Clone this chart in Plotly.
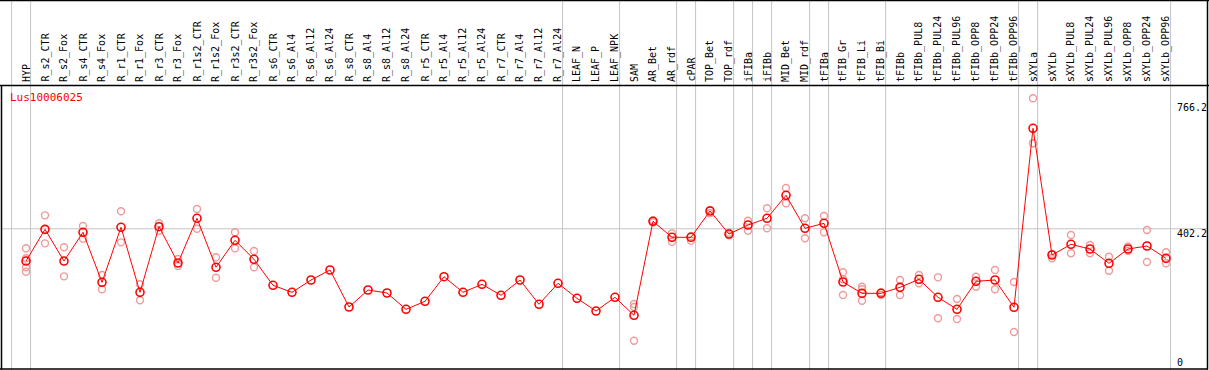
import plotly.graph_objects as go

categories = ["HYP", "R_s2_CTR", "R_s2_Fox", "R_s4_CTR", "R_s4_Fox", "R_r1_CTR", "R_r1_Fox",
              "R_r3_CTR", "R_r3_Fox", "R_r1s2_CTR", "R_r1s2_Fox", "R_r3s2_CTR", "R_r3s2_Fox",
              "R_s6_CTR", "R_s6_Al4", "R_s6_Al12", "R_s6_Al24", "R_s8_CTR", "R_s8_Al4", "R_s8_Al12",
              "R_s8_Al24", "R_r5_CTR", "R_r5_Al4", "R_r5_Al12", "R_r5_Al24", "R_r7_CTR", "R_r7_Al4",
              "R_r7_Al12", "R_r7_Al24", "LEAF_N", "LEAF_P", "LEAF_NPK", "SAM", "AR_Bet", "AR_rdf",
              "cPAR", "TOP_Bet", "TOP_rdf", "iFIBa", "iFIBb", "MID_Bet", "MID_rdf", "tFIBa",
              "tFIB_Gr", "tFIB_Li", "tFIB_Bi", "tFIBb", "tFIBb_PUL8", "tFIBb_PUL24", "tFIBb_PUL96",
              "tFIBb_OPP8", "tFIBb_OPP24", "tFIBb_OPP96", "sXYLa", "sXYLb", "sXYLb_PUL8",
              "sXYLb_PUL24", "sXYLb_PUL96", "sXYLb_OPP8", "sXYLb_OPP24", "sXYLb_OPP96"]

means = [309, 400.5, 309, 392, 247.5, 406.4, 218.6, 408.2, 303.3, 432.4, 290.9, 368.8, 314,
         238.9, 218.6, 254.2, 283.1, 176.2, 225.3, 216.6, 169.5, 192.6, 263.7, 218.6, 241.8,
         210, 254.2, 184, 244.7, 201.3, 164.6, 204.2, 152.2, 423.7, 377.5, 377.5, 453.5, 387,
         413, 432.4, 498.8, 403.5, 417.9, 248.4, 215.7, 215.7, 233, 256.2, 204.2, 169.5, 250.4,
         254.2, 175.3, 692.4, 326.4, 357.3, 343.7, 302.4, 343.7, 352.4, 316.9]

replicates = [
    [345.7, 316.9, 290.9, 278.2], [441, 360], [348.6, 264.8], [410, 373.6], [268.6, 227.3],
    [452.6, 363], [241.8, 195.5], [418, 396.6], [314.9, 294.6], [459.3, 402.4], [319.8, 260.8],
    [392, 345.7], [338, 290.9],
    [], [], [], [], [], [], [], [], [], [], [], [], [], [], [], [], [], [], [],
    [184.9, 176.2, 78.9], [426, 421], [389, 364.8], [381.3, 367.8], [456.4, 446.8],
    [390.9, 383.2], [425.5, 396.6], [461.3, 403.5], [519.9, 475.7], [432.4, 374.6],
    [439, 391.9], [276.4, 256.2, 210.9], [234.9, 227.3, 194.4], [218.6, 210.9],
    [254.2, 210.9], [268.6, 244.7], [261.9, 143.5], [199.3, 141.5], [263.7, 234.9],
    [283.1, 227.3], [248.4, 104], [779, 649, 649], [329.3, 316.9], [384.2, 331.3],
    [355.3, 331.3], [321.5, 281.1], [350.4, 338.8], [398.6, 306.2], [334.2, 302.4]]

# last category index of each group (group separators drawn right after them)
group_ends = [-1, 0, 28, 31, 34, 35, 37, 38, 39, 41, 42, 45, 52, 53, 60]

gene_id = "Lus10006025"
axis_values = [766.2, 402.2, 0]
axis_labels = ["766.2", "402.2", "0"]
grid_value = 402.2

# ---- geometry (pixels) ----
W, H = 1209, 370
X0, DX = 26, 19           # pixel of first category, spacing
Y0, SY = 368, 0.3462      # pixel of value 0, pixels per unit
HEADER = 85

xr = [(0 - X0) / DX, (W - X0) / DX]
yr = [(Y0 - H) / SY, Y0 / SY]

def px_x(p):  # pixel -> paper x
    return p / W

def px_y(p):  # pixel -> paper y
    return (H - p) / H

idx = list(range(len(categories)))
rx, ry = [], []
for i, reps in enumerate(replicates):
    for v in reps:
        rx.append(i)
        ry.append(v)

fig = go.Figure()
fig.add_trace(go.Scatter(x=rx, y=ry, mode="markers", hoverinfo="skip",
                         marker=dict(symbol="circle-open", size=7, color="#f09a9a",
                                     line=dict(width=1.4, color="#f09a9a"))))
fig.add_trace(go.Scatter(x=idx, y=means, mode="lines+markers",
                         line=dict(color="#ff0000", width=1),
                         marker=dict(symbol="circle-open", size=8, color="#ff0000",
                                     line=dict(width=1.6, color="#ff0000"))))

shapes = []
grey = "#c4c4c4"
for g in group_ends:
    xv = g + 4.6 / DX
    shapes.append(dict(type="line", xref="x", yref="paper", x0=xv, x1=xv, y0=0, y1=1,
                       line=dict(color=grey, width=1), layer="below"))
shapes.append(dict(type="line", xref="paper", yref="y", x0=px_x(1), x1=px_x(1207),
                   y0=grid_value, y1=grid_value, line=dict(color=grey, width=1), layer="below"))
# borders
blk = "#000000"
shapes += [
    dict(type="line", xref="paper", yref="paper", x0=0, x1=1, y0=px_y(0.5), y1=px_y(0.5),
         line=dict(color=blk, width=1.5)),
    dict(type="line", xref="paper", yref="paper", x0=0, x1=1, y0=px_y(HEADER + 0.5), y1=px_y(HEADER + 0.5),
         line=dict(color=blk, width=1.5)),
    dict(type="line", xref="paper", yref="paper", x0=0, x1=px_x(1208), y0=px_y(369), y1=px_y(369),
         line=dict(color=blk, width=1.5)),
    dict(type="line", xref="paper", yref="paper", x0=px_x(1.5), x1=px_x(1.5), y0=px_y(HEADER), y1=px_y(369.5),
         line=dict(color=blk, width=1.5)),
    dict(type="line", xref="paper", yref="paper", x0=px_x(1207.5), x1=px_x(1207.5), y0=px_y(0), y1=px_y(369.5),
         line=dict(color=blk, width=1.5)),
]

annotations = []
mono = "DejaVu Sans Mono"
for i, c in enumerate(categories):
    annotations.append(dict(text=c, x=i, xref="x", y=px_y(84), yref="paper", textangle=-90,
                            xanchor="center", yanchor="bottom", showarrow=False,
                            font=dict(family=mono, size=10, color="#000000")))
annotations.append(dict(text=gene_id, x=px_x(8), y=px_y(97), xref="paper", yref="paper",
                        xanchor="left", yanchor="middle", showarrow=False,
                        font=dict(family=mono, size=11, color="#ff0000")))
for v, t in zip(axis_values, axis_labels):
    ypix = Y0 - SY * v - 3
    ypix = min(ypix, 355)
    annotations.append(dict(text=t, x=px_x(1175), y=px_y(ypix), xref="paper", yref="paper",
                            xanchor="left", yanchor="top", showarrow=False,
                            font=dict(family=mono, size=10, color="#000000")))

fig.update_layout(
    width=W, height=H, margin=dict(l=0, r=0, t=0, b=0, pad=0, autoexpand=False),
    paper_bgcolor="white", plot_bgcolor="white", showlegend=False,
    xaxis=dict(range=xr, visible=False, fixedrange=True),
    yaxis=dict(range=yr, visible=False, fixedrange=True),
    shapes=shapes, annotations=annotations,
)
fig.write_html("out.html", config={"displayModeBar": False},
               post_script="document.body.style.margin='0px';document.body.style.overflow='hidden';")
